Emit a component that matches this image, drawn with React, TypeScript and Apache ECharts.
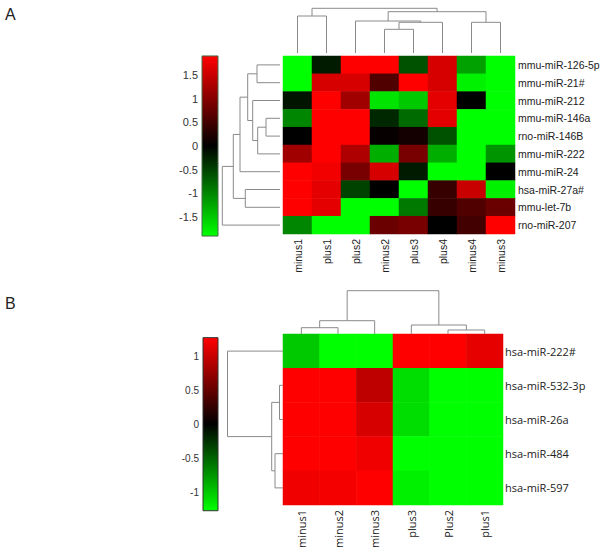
import React, { useEffect, useRef } from "react";
import * as echarts from "echarts";

// ---------- Panel A data ----------
const colsA = ["minus1", "plus1", "plus2", "minus2", "plus3", "plus4", "minus4", "minus3"];
const rowsA = [
  "mmu-miR-126-5p",
  "mmu-miR-21#",
  "mmu-miR-212",
  "mmu-miR-146a",
  "rno-miR-146B",
  "mmu-miR-222",
  "mmu-miR-24",
  "hsa-miR-27a#",
  "mmu-let-7b",
  "rno-miR-207",
];
const valuesA = [
  [-1.9, -0.2, 1.9, 1.9, -0.6, 1.6, -1.2, -1.9],
  [-1.9, 1.6, 1.6, 0.6, 1.9, 1.6, -1.8, -1.9],
  [-0.15, 1.9, 1.2, -1.7, -1.5, 1.7, 0.0, -1.9],
  [-1.0, 1.9, 1.9, -0.3, -0.8, 1.7, -1.9, -1.9],
  [0.0, 1.9, 1.9, 0.05, 0.15, -0.6, -1.9, -1.9],
  [1.2, 1.9, 1.3, -1.3, 0.9, -1.3, -1.9, -1.1],
  [1.9, 1.8, 0.9, 1.6, -0.2, -1.9, -1.9, 0.0],
  [1.9, 1.7, -0.5, 0.0, -1.9, 0.4, 1.5, -1.8],
  [1.9, 1.7, -1.9, -1.9, -0.9, 0.4, 0.6, 0.8],
  [-1.0, -1.9, -1.9, 0.8, 0.9, 0.0, 0.5, 1.9],
];
// merges: [left, right, height]; leaves are 0..n-1, clusters n, n+1, ...
const colMergesA = [
  [0, 1, 37],
  [3, 4, 23.7],
  [9, 5, 30.7],
  [2, 10, 32],
  [6, 7, 30.7],
  [11, 12, 41.3],
  [8, 13, 44.7],
];
const rowMergesA = [
  [0, 1, 23],
  [3, 4, 14],
  [11, 5, 22.3],
  [2, 12, 27.3],
  [10, 13, 32.3],
  [14, 6, 40],
  [7, 8, 34.7],
  [15, 16, 46.7],
  [17, 9, 57.7],
];
const rangeA = [-1.9, 1.9];

// ---------- Panel B data ----------
const colsB = ["minus1", "minus2", "minus3", "plus3", "Plus2", "plus1"];
const rowsB = ["hsa-miR-222#", "hsa-miR-532-3p", "hsa-miR-26a", "hsa-miR-484", "hsa-miR-597"];
const valuesB = [
  [-1.0, -1.27, -1.27, 1.27, 1.27, 1.15],
  [1.27, 1.27, 0.95, -1.1, -1.27, -1.27],
  [1.27, 1.27, 1.07, -1.1, -1.27, -1.27],
  [1.27, 1.27, 1.2, -1.27, -1.27, -1.27],
  [1.2, 1.22, 1.27, -1.2, -1.27, -1.27],
];
const colMergesB = [
  [0, 1, 6.3],
  [6, 2, 13.3],
  [4, 5, 4],
  [3, 8, 9],
  [7, 9, 43.3],
];
const rowMergesB = [
  [1, 2, 3.5],
  [3, 4, 8],
  [5, 6, 11.3],
  [0, 7, 55.5],
];
const rangeB = [-1.27, 1.27];

const GREEN = "#00ff00";
const BLACK = "#000000";
const RED = "#ff0000";

function heatData(values: number[][]) {
  const out: number[][] = [];
  values.forEach((row, r) => row.forEach((v, c) => out.push([c, r, v])));
  return out;
}

function dendro(n: number, merges: number[][], orient: "top" | "left") {
  const pos: number[] = [];
  const h: number[] = [];
  for (let i = 0; i < n; i++) {
    pos.push(i);
    h.push(0);
  }
  const segs: any[] = [];
  merges.forEach(([a, b, hh]) => {
    const pts = [
      [pos[a], h[a]],
      [pos[a], hh],
      [pos[b], hh],
      [pos[b], h[b]],
    ];
    segs.push({ coords: orient === "top" ? pts : pts.map(([p, q]) => [q, p]) });
    pos.push((pos[a] + pos[b]) / 2);
    h.push(hh);
  });
  return segs;
}

function colorbarSeries(range: number[], xi: number, yi: number, stroke: string) {
  return {
    type: "custom",
    xAxisIndex: xi,
    yAxisIndex: yi,
    silent: true,
    data: [[0, range[0], 1, range[1]]],
    renderItem: (params: any, api: any) => {
      const p1 = api.coord([api.value(0), api.value(3)]);
      const p2 = api.coord([api.value(2), api.value(1)]);
      return {
        type: "rect",
        shape: { x: p1[0], y: p1[1], width: p2[0] - p1[0], height: p2[1] - p1[1] },
        style: {
          fill: new echarts.graphic.LinearGradient(0, 0, 0, 1, [
            { offset: 0, color: RED },
            { offset: 0.5, color: BLACK },
            { offset: 1, color: GREEN },
          ]),
          stroke,
          lineWidth: 1,
        },
      };
    },
  };
}

const hidden = { show: false };

export default function App() {
  const ref = useRef<HTMLDivElement>(null);

  useEffect(() => {
    document.body.style.margin = "0";
    const chart = echarts.init(ref.current!, null, { renderer: "svg" });

    const fontA = "'Liberation Sans', Arial, sans-serif";
    const fontB = "'Open Sans', 'Liberation Sans', sans-serif";
    const dendroStyle = { color: "#8a8a8a", width: 1, opacity: 1, curveness: 0 };

    const option: any = {
      animation: false,
      backgroundColor: "#ffffff",
      grid: [
        { left: 283, top: 56, width: 232, height: 178 }, // 0 heatmap A
        { left: 283, top: 3, width: 232, height: 50 }, // 1 col dendro A
        { left: 220, top: 56, width: 60, height: 178 }, // 2 row dendro A
        { left: 202, top: 51.2, width: 16, height: 189.6 }, // 3 colorbar A
        { left: 283, top: 334, width: 220, height: 171 }, // 4 heatmap B
        { left: 283, top: 284, width: 220, height: 50 }, // 5 col dendro B
        { left: 223, top: 334, width: 60, height: 171 }, // 6 row dendro B
        { left: 203, top: 322, width: 15, height: 204.4 }, // 7 colorbar B
      ],
      xAxis: [
        {
          gridIndex: 0,
          type: "category",
          data: colsA,
          position: "bottom",
          axisLine: hidden,
          axisTick: hidden,
          splitLine: hidden,
          axisLabel: { rotate: 90, fontSize: 10.5, margin: 5, color: "#222", fontFamily: fontA },
        },
        { gridIndex: 1, type: "value", min: -0.5, max: 7.5, show: false },
        { gridIndex: 2, type: "value", min: 0, max: 60, inverse: true, show: false },
        { gridIndex: 3, type: "value", min: 0, max: 1, show: false },
        {
          gridIndex: 4,
          type: "category",
          data: colsB,
          position: "bottom",
          axisLine: hidden,
          axisTick: hidden,
          splitLine: hidden,
          axisLabel: { rotate: 90, fontSize: 11, margin: 5, color: "#222", fontFamily: fontB },
        },
        { gridIndex: 5, type: "value", min: -0.5, max: 5.5, show: false },
        { gridIndex: 6, type: "value", min: 0, max: 60, inverse: true, show: false },
        { gridIndex: 7, type: "value", min: 0, max: 1, show: false },
      ],
      yAxis: [
        {
          gridIndex: 0,
          type: "category",
          data: rowsA,
          inverse: true,
          position: "right",
          axisLine: hidden,
          axisTick: hidden,
          splitLine: hidden,
          axisLabel: { fontSize: 10.5, margin: 3, color: "#222", fontFamily: fontA },
        },
        { gridIndex: 1, type: "value", min: 0, max: 50, show: false },
        { gridIndex: 2, type: "value", min: -0.5, max: 9.5, inverse: true, show: false },
        {
          gridIndex: 3,
          type: "value",
          min: -2,
          max: 2,
          interval: 0.5,
          position: "left",
          axisLine: hidden,
          axisTick: hidden,
          splitLine: hidden,
          axisLabel: {
            fontSize: 11,
            margin: 4,
            color: "#333",
            fontFamily: fontA,
            showMinLabel: false,
            showMaxLabel: false,
          },
        },
        {
          gridIndex: 4,
          type: "category",
          data: rowsB,
          inverse: true,
          position: "right",
          axisLine: hidden,
          axisTick: hidden,
          splitLine: hidden,
          axisLabel: { fontSize: 11, margin: 2, color: "#222", fontFamily: fontB },
        },
        { gridIndex: 5, type: "value", min: 0, max: 50, show: false },
        { gridIndex: 6, type: "value", min: -0.5, max: 4.5, inverse: true, show: false },
        {
          gridIndex: 7,
          type: "value",
          min: -1.5,
          max: 1.5,
          interval: 0.5,
          position: "left",
          axisLine: hidden,
          axisTick: hidden,
          splitLine: hidden,
          axisLabel: {
            fontSize: 10,
            margin: 4,
            color: "#333",
            fontFamily: fontA,
            showMinLabel: false,
            showMaxLabel: false,
          },
        },
      ],
      visualMap: [
        {
          type: "continuous",
          show: false,
          seriesIndex: 0,
          dimension: 2,
          min: rangeA[0],
          max: rangeA[1],
          inRange: { color: [GREEN, BLACK, RED] },
        },
        {
          type: "continuous",
          show: false,
          seriesIndex: 4,
          dimension: 2,
          min: rangeB[0],
          max: rangeB[1],
          inRange: { color: [GREEN, BLACK, RED] },
        },
      ],
      series: [
        {
          type: "heatmap",
          xAxisIndex: 0,
          yAxisIndex: 0,
          data: heatData(valuesA),
          itemStyle: { borderWidth: 0 },
          emphasis: { disabled: true },
        },
        {
          type: "lines",
          coordinateSystem: "cartesian2d",
          xAxisIndex: 1,
          yAxisIndex: 1,
          polyline: true,
          silent: true,
          lineStyle: dendroStyle,
          data: dendro(colsA.length, colMergesA, "top"),
        },
        {
          type: "lines",
          coordinateSystem: "cartesian2d",
          xAxisIndex: 2,
          yAxisIndex: 2,
          polyline: true,
          silent: true,
          lineStyle: dendroStyle,
          data: dendro(rowsA.length, rowMergesA, "left"),
        },
        colorbarSeries(rangeA, 3, 3, "#4a6a4a"),
        {
          type: "heatmap",
          xAxisIndex: 4,
          yAxisIndex: 4,
          data: heatData(valuesB),
          itemStyle: { borderWidth: 0 },
          emphasis: { disabled: true },
        },
        {
          type: "lines",
          coordinateSystem: "cartesian2d",
          xAxisIndex: 5,
          yAxisIndex: 5,
          polyline: true,
          silent: true,
          lineStyle: dendroStyle,
          data: dendro(colsB.length, colMergesB, "top"),
        },
        {
          type: "lines",
          coordinateSystem: "cartesian2d",
          xAxisIndex: 6,
          yAxisIndex: 6,
          polyline: true,
          silent: true,
          lineStyle: dendroStyle,
          data: dendro(rowsB.length, rowMergesB, "left"),
        },
        colorbarSeries(rangeB, 7, 7, "#333333"),
      ],
      graphic: [
        {
          type: "text",
          left: 5,
          top: 6,
          style: { text: "A", fontSize: 16, fill: "#222", fontFamily: fontA },
        },
        {
          type: "text",
          left: 5,
          top: 295,
          style: { text: "B", fontSize: 16, fill: "#222", fontFamily: fontA },
        },
      ],
    };

    chart.setOption(option);
    return () => chart.dispose();
  }, []);

  return <div ref={ref} style={{ width: 604, height: 552 }} />;
}
